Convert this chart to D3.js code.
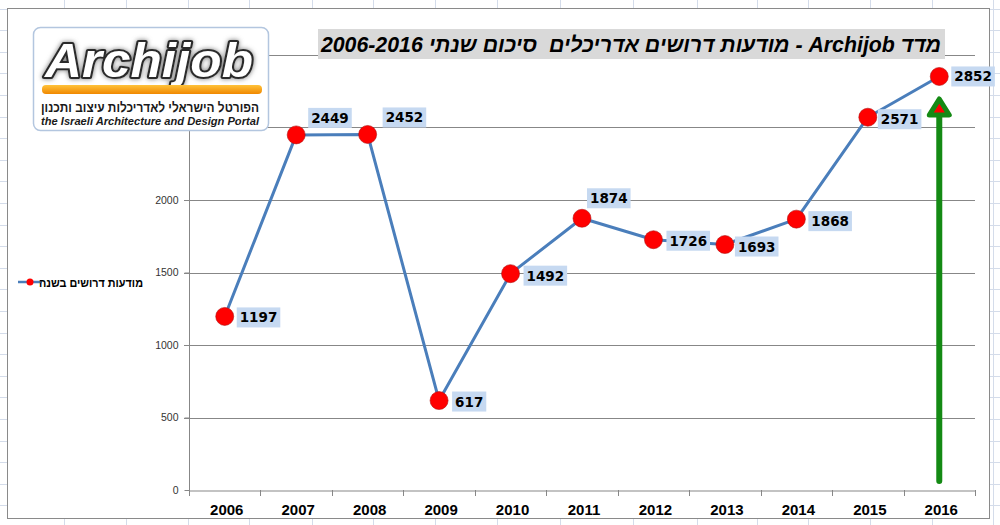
<!DOCTYPE html>
<html>
<head>
<meta charset="utf-8">
<script src="https://cdn.jsdelivr.net/npm/d3@7"></script>
<style>
  body { margin: 0; background: #fff; }
  svg { display: block; }
</style>
</head>
<body>
<svg id="chart"></svg>
<script>
// data
const years = ["2006", "2007", "2008", "2009", "2010", "2011", "2012", "2013", "2014", "2015", "2016"];
const jobAds = [1197, 2449, 2452, 617, 1492, 1874, 1726, 1693, 1868, 2571, 2852];
const gridTicks = [500, 1000, 1500, 2000, 2500, 3000];
const yTickLabels = [0, 500, 1000, 1500, 2000]; // 2500 and 3000 sit under the logo
const seriesName = "מודעות דרושים בשנה";
const titleText = "מדד Archijob - מודעות דרושים אדריכלים  סיכום שנתי 2006-2016";

// where each data label sits relative to its point [dx to box left, dy of box centre]
const labelOffsets = [[12, 1], [12, -17], [15, -17], [13, 1], [13, 2], [5, -20], [13, 1], [10, 2], [12, 2], [10, 2], [12, 0]];

const W = 1000, H = 525;
const svg = d3.select("#chart").attr("width", W).attr("height", H);

// spreadsheet grid behind the chart
const sheetCols = [64, 126, 188, 249, 312, 373, 435, 497, 560, 633, 697, 757, 808, 870, 932, 993];
const sheet = svg.append("g");
sheetCols.forEach(x => sheet.append("line").attr("x1", x + 0.5).attr("x2", x + 0.5)
  .attr("y1", 0).attr("y2", H).attr("stroke", "#d4dcea"));
d3.range(8.5, H, 21.6).forEach(y => sheet.append("line").attr("x1", 0).attr("x2", W)
  .attr("y1", Math.round(y) + 0.5).attr("y2", Math.round(y) + 0.5).attr("stroke", "#d4dcea"));

// chart frame
svg.append("rect").attr("x", 7.5).attr("y", 8.5).attr("width", 982).attr("height", 510)
  .attr("fill", "#fff").attr("stroke", "#8a8a8a");

// scales
const x = d3.scaleBand().domain(years).range([189, 975]).padding(0);
const y = d3.scaleLinear().domain([0, 3000]).range([490, 55]);
const cx = d => x(d) + x.bandwidth() / 2;

// gridlines
svg.append("g").selectAll("line").data(gridTicks).join("line")
  .attr("x1", 184).attr("x2", 975)
  .attr("y1", d => Math.round(y(d)) + 0.5).attr("y2", d => Math.round(y(d)) + 0.5)
  .attr("stroke", "#878787");

// y axis
const yAxis = svg.append("g").attr("transform", "translate(189.5,0)")
  .call(d3.axisLeft(y).tickValues(yTickLabels).tickFormat(d3.format("d")).tickSize(5).tickPadding(6));
yAxis.select(".domain").attr("stroke", "#878787").attr("d", `M0,${y(0)}V${y(3000)}`);
yAxis.selectAll(".tick line").attr("stroke", "#878787");
yAxis.selectAll("text").attr("font-family", "Liberation Sans, Arial, sans-serif")
  .attr("font-size", 10.5).attr("fill", "#333");

// x axis with ticks between categories
const xAxis = svg.append("g").attr("transform", "translate(0,490.5)")
  .call(d3.axisBottom(x).tickSize(0).tickPadding(14));
xAxis.select(".domain").attr("stroke", "#878787");
xAxis.selectAll("text").attr("font-family", "Liberation Sans, Arial, sans-serif")
  .attr("font-size", 15).attr("font-weight", "bold").attr("fill", "#000").attr("dx", 2);
svg.append("g").selectAll("line").data(d3.range(years.length + 1)).join("line")
  .attr("x1", i => Math.round(189 + i * x.bandwidth()) + 0.5)
  .attr("x2", i => Math.round(189 + i * x.bandwidth()) + 0.5)
  .attr("y1", 490).attr("y2", 496).attr("stroke", "#878787");

// series line
const line = d3.line().x((d, i) => cx(years[i])).y(d => y(d));
svg.append("path").datum(jobAds).attr("d", line)
  .attr("fill", "none").attr("stroke", "#4a7ebb").attr("stroke-width", 3).attr("stroke-linejoin", "round");

// green arrow on the last year
const ax = cx(years[years.length - 1]);
svg.append("line").attr("x1", ax).attr("x2", ax).attr("y1", 481).attr("y2", 112)
  .attr("stroke", "#148a14").attr("stroke-width", 6).attr("stroke-linecap", "round");
svg.append("path").attr("d", `M${ax},99 L${ax + 10},115 L${ax - 10},115 Z`)
  .attr("fill", "#ff0000").attr("stroke", "#148a14").attr("stroke-width", 5).attr("stroke-linejoin", "round");

// markers
svg.append("g").selectAll("circle").data(jobAds).join("circle")
  .attr("cx", (d, i) => cx(years[i])).attr("cy", d => y(d)).attr("r", 9)
  .attr("fill", "#ff0000").attr("stroke", "#b01010").attr("stroke-width", 0.6);

// data labels
const labels = svg.append("g").selectAll("g").data(jobAds).join("g")
  .attr("transform", (d, i) => `translate(${cx(years[i]) + labelOffsets[i][0]},${y(d) + labelOffsets[i][1]})`);
labels.append("text").attr("x", 3).attr("y", 5)
  .attr("font-family", "DejaVu Sans, Verdana, sans-serif").attr("font-size", 13.5).attr("font-weight", "bold")
  .attr("fill", "#000").text(d => d);
labels.each(function () {
  const g = d3.select(this);
  const w = g.select("text").node().getComputedTextLength();
  g.insert("rect", "text").attr("x", 0).attr("y", -10).attr("width", w + 6).attr("height", 20).attr("fill", "#c6d9f1");
});

// legend
const lg = svg.append("g").attr("transform", "translate(0,282)");
lg.append("line").attr("x1", 18).attr("x2", 42).attr("y1", 0).attr("y2", 0).attr("stroke", "#4a7ebb").attr("stroke-width", 2.5);
lg.append("circle").attr("cx", 30).attr("cy", 0).attr("r", 3.5).attr("fill", "#ff0000");
lg.append("text").attr("x", 143).attr("y", 4.5).attr("text-anchor", "start")
  .attr("font-family", "Liberation Sans, Arial, sans-serif").attr("font-size", 12).attr("font-weight", "bold")
  .attr("textLength", 104).attr("lengthAdjust", "spacingAndGlyphs")
  .attr("direction", "rtl").style("unicode-bidi", "embed").text(seriesName);

// title
svg.append("rect").attr("x", 318).attr("y", 29).attr("width", 627).attr("height", 30).attr("fill", "#d9d9d9");
svg.append("text").attr("x", 941).attr("y", 52)
  .attr("font-family", "Liberation Sans, Arial, sans-serif").attr("font-size", 21.3)
  .attr("font-weight", "bold").attr("font-style", "italic").attr("fill", "#000")
  .attr("direction", "rtl").style("unicode-bidi", "embed").style("white-space", "pre")
  .attr("text-anchor", "start")
  .text(titleText);

// logo
const defs = svg.append("defs");
const grad = defs.append("linearGradient").attr("id", "bar").attr("x1", 0).attr("x2", 0).attr("y1", 0).attr("y2", 1);
grad.append("stop").attr("offset", "0%").attr("stop-color", "#ffc23a");
grad.append("stop").attr("offset", "100%").attr("stop-color", "#f08800");
const glow = defs.append("filter").attr("id", "glow").attr("x", "-10%").attr("y", "-30%").attr("width", "120%").attr("height", "160%");
glow.append("feGaussianBlur").attr("in", "SourceAlpha").attr("stdDeviation", 2.5).attr("result", "b");
glow.append("feFlood").attr("flood-color", "#777").attr("result", "c");
glow.append("feComposite").attr("in", "c").attr("in2", "b").attr("operator", "in").attr("result", "s");
const merge = glow.append("feMerge");
merge.append("feMergeNode").attr("in", "s");
merge.append("feMergeNode").attr("in", "SourceGraphic");

const logo = svg.append("g");
logo.append("rect").attr("x", 33.5).attr("y", 27.5).attr("width", 235).attr("height", 103).attr("rx", 7)
  .attr("fill", "#fff").attr("stroke", "#b3c6df").attr("stroke-width", 1.5);
logo.append("text").attr("x", 45).attr("y", 77)
  .attr("font-family", "Liberation Sans, Arial, sans-serif").attr("font-size", 48)
  .attr("font-weight", "bold").attr("font-style", "italic")
  .attr("textLength", 208).attr("lengthAdjust", "spacingAndGlyphs")
  .attr("fill", "#fff").attr("stroke", "#2b2b2b").attr("stroke-width", 4).attr("paint-order", "stroke")
  .attr("stroke-linejoin", "round").attr("filter", "url(#glow)")
  .text("Archijob");
logo.append("rect").attr("x", 42).attr("y", 85).attr("width", 220).attr("height", 9).attr("rx", 4)
  .attr("fill", "url(#bar)");
logo.append("text").attr("x", 259).attr("y", 112)
  .attr("font-family", "Liberation Sans, Arial, sans-serif").attr("font-size", 13.5).attr("font-weight", "bold")
  .attr("fill", "#1a1a1a").attr("direction", "rtl").style("unicode-bidi", "embed")
  .attr("textLength", 218).attr("lengthAdjust", "spacingAndGlyphs")
  .text("הפורטל הישראלי לאדריכלות עיצוב ותכנון");
logo.append("text").attr("x", 41).attr("y", 125)
  .attr("font-family", "Liberation Sans, Arial, sans-serif").attr("font-size", 11.5)
  .attr("font-weight", "bold").attr("font-style", "italic").attr("fill", "#1a1a1a")
  .attr("textLength", 218).attr("lengthAdjust", "spacingAndGlyphs")
  .text("the Israeli Architecture and Design Portal");
</script>
</body>
</html>
